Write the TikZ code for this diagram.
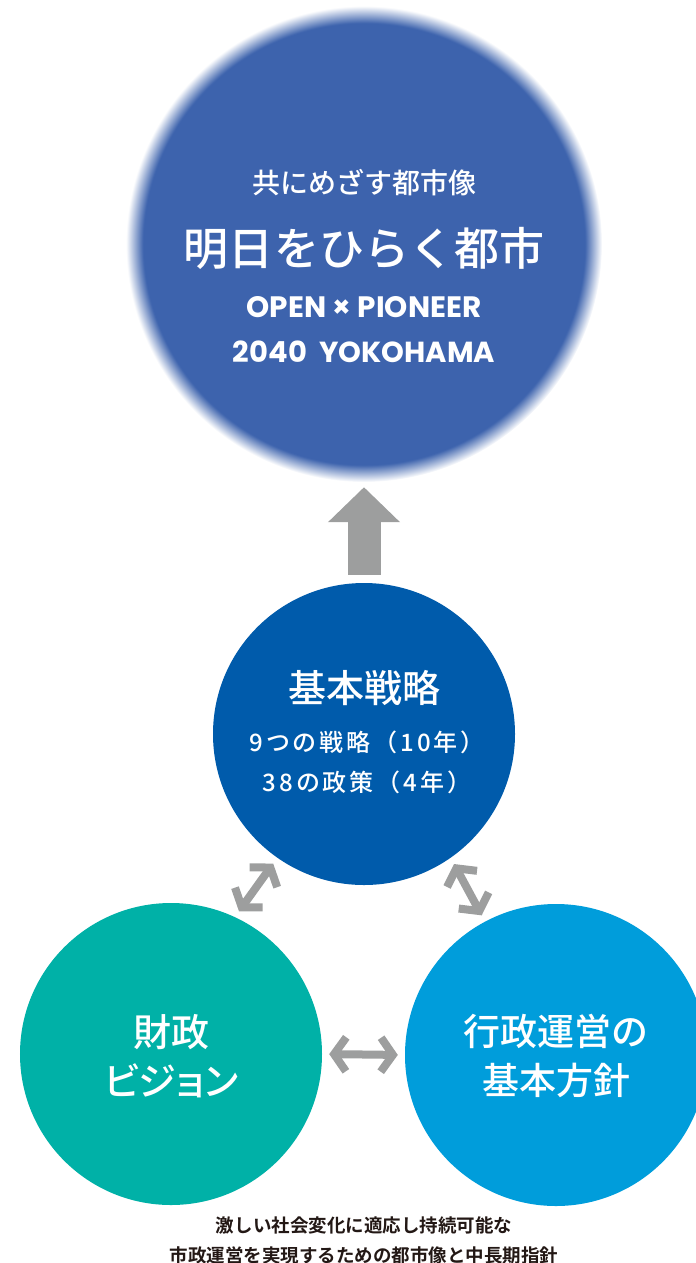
\documentclass[tikz,border=0pt]{standalone}
\usepackage{fontspec}
\setmainfont{Noto Sans CJK JP}[UprightFont=* Medium, BoldFont=* Bold]
\newfontfamily\latinfont{Poppins}
\usepackage{tikz}
\usetikzlibrary{shapes,arrows.meta,positioning,calc}
\definecolor{visionblue}{HTML}{3D63AD}
\definecolor{stratblue}{HTML}{005BAB}
\definecolor{financeteal}{HTML}{00B1A7}
\definecolor{adminblue}{HTML}{009DDB}
\definecolor{arrowgray}{HTML}{9D9E9E}
\definecolor{captiontext}{HTML}{231815}
\pgfdeclareradialshading{fuzzyblue}{\pgfpoint{0bp}{0bp}}{%
    color(0bp)=(visionblue); color(23.2bp)=(visionblue);
    color(25bp)=(white); color(50bp)=(white)}
\tikzset{%
    circ/.style     = {circle, minimum size = 302bp, inner sep = 0pt},
    label/.style    = {text = white, align = center, inner sep = 0pt},
    twoway/.style   = {draw = arrowgray, line width = 8bp,
        {Straight Barb[length = 12bp, width = 34bp]}-{Straight Barb[length = 12bp, width = 34bp]},
        shorten < = 7bp, shorten > = 7bp},
    bigarrow/.style = {draw = arrowgray, line width = 33bp,
        -{Triangle[length = 35bp, width = 70bp]}},
}

\begin{document}
\begin{tikzpicture}[x = 1bp, y = -1bp]
    \useasboundingbox (0,0) rectangle (696,1263);
    % We start by placing the circles
    \node [circle, shading = fuzzyblue, minimum size = 476bp, inner sep = 0pt] (vision) at (364,244) {};
    \node [circ, fill = stratblue] (strat) at (364,734) {};
    \node [circ, fill = financeteal] (finance) at (171,1054) {};
    \node [circ, fill = adminblue] (admin) at (556,1055) {};

    % texts of the vision
    \node [label, font = \fontsize{28bp}{30bp}\selectfont] (vision_sub) at (364,183) {共にめざす都市像};
    \node [label, font = \fontsize{45bp}{48bp}\selectfont] (vision_title) at (364,248) {明日をひらく都市};
    \node [label, font = \latinfont\bfseries\fontsize{29.5bp}{30bp}\selectfont] (vision_open) at (364,307) {OPEN × PIONEER};
    \node [label, font = \latinfont\bfseries\fontsize{29bp}{30bp}\selectfont] (vision_year) at (364,352) {2040\ \ YOKOHAMA};

    \node [label, font = \fontsize{38bp}{40bp}\selectfont] (strat_title) at (364,688) {基本戦略};
    \node [label, font = \fontsize{24bp}{26bp}\selectfont\addfontfeatures{LetterSpace=12}] (strat_ten) at (367,742) {9つの戦略（10年）};
    \node [label, font = \fontsize{24bp}{26bp}\selectfont\addfontfeatures{LetterSpace=12}] (strat_four) at (367,782) {38の政策（4年）};

    \node [label, font = \fontsize{38bp}{49bp}\selectfont] (finance_text) at (171,1056) {財政\\{\addfontfeatures{RawFeature=+palt}ビジョン}};
    \node [label, font = \fontsize{37bp}{49bp}\selectfont] (admin_text) at (556,1056) {行政運営の\\基本方針};

    \node [align = center, inner sep = 0pt, text = captiontext, font = \bfseries\fontsize{18.5bp}{30bp}\selectfont] (caption) at (364,1240)
        {激しい社会変化に適応し持続可能な\\市政運営を実現するための都市像と中長期指針};

    % Once the nodes are placed, connecting them is easy.
    \draw [bigarrow] ([yshift = 8bp]strat.north) -- ([yshift = -5bp]vision.south);
    \draw [twoway] (finance.65) -- (strat.235);
    \draw [twoway] (strat.305) -- (admin.118);
    \draw [twoway] (finance.east) -- (admin.west);
\end{tikzpicture}
\end{document}
